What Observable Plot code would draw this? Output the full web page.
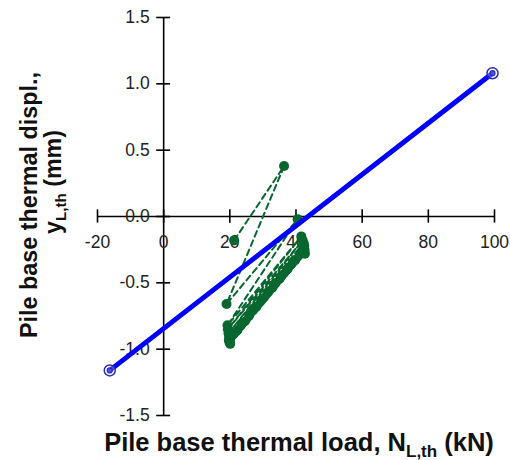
<!DOCTYPE html>
<html><head><meta charset="utf-8">
<script src="https://cdn.jsdelivr.net/npm/d3@7"></script>
<script src="https://cdn.jsdelivr.net/npm/@observablehq/plot@0.6"></script>
<style>body{margin:0;background:#fff;font-family:"Liberation Sans",Arial,sans-serif}</style>
</head><body><div id="chart"></div>
<script>
// Fitted line (blue)
const blueN = [-16.3, 99.4];
const blueY = [-1.16, 1.08];
// Measured sequence (green, dashed connections)
const seqN = [21.3, 36.4, 19.0, 40.5, 19.3, 41.6, 19.4, 42.0, 19.6, 42.3, 19.8, 42.5, 19.9, 42.6, 20.0, 42.4, 19.7, 42.2, 19.9, 42.7, 20.1];
const seqY = [-0.18, 0.38, -0.66, -0.02, -0.82, -0.15, -0.85, -0.18, -0.88, -0.20, -0.90, -0.22, -0.92, -0.25, -0.94, -0.27, -0.93, -0.24, -0.95, -0.28, -0.96];
// Dense band of measurements (green)
const bandN = [20, 21.2, 22.4, 23.5, 24.7, 25.9, 27.0, 28.2, 29.4, 30.5, 31.7, 32.9, 34.0, 35.2, 36.4, 37.5, 38.7, 39.9, 41.0, 42.0];
const bandY = [-0.93, -0.89, -0.86, -0.82, -0.79, -0.75, -0.71, -0.68, -0.64, -0.61, -0.57, -0.54, -0.50, -0.47, -0.43, -0.40, -0.36, -0.33, -0.29, -0.26];
const xTicks = [-20, 0, 20, 40, 60, 80, 100];
const yTicks = [-1.5, -1.0, -0.5, 0.0, 0.5, 1.0, 1.5];

const blue = blueN.map((n, i) => ({n, y: blueY[i]}));
const seq = seqN.map((n, i) => ({n, y: seqY[i]}));
const band = bandN.map((n, i) => ({n, y: bandY[i]}));
const green = "#08662f";

const plot = Plot.plot({
  width: 510, height: 460,
  marginLeft: 97, marginRight: 16, marginTop: 17, marginBottom: 45,
  x: {domain: [-20, 100], axis: null},
  y: {domain: [-1.5, 1.5], axis: null},
  style: {fontFamily: "'Liberation Sans', Arial, sans-serif", fontSize: "17.5px", color: "#222"},
  marks: [
    Plot.ruleY([0], {x1: -20, x2: 100, stroke: "#000", strokeWidth: 1.6}),
    Plot.ruleX([0], {y1: -1.5, y2: 1.5, stroke: "#000", strokeWidth: 1.6}),
    Plot.ruleX(xTicks, {x: d => d, y1: -0.05, y2: 0.05, stroke: "#000", strokeWidth: 1.6}),
    Plot.ruleY(yTicks, {y: d => d, x1: -2.1, x2: 2.1, stroke: "#000", strokeWidth: 1.6}),
    Plot.text(xTicks, {x: d => d, y: 0, dy: 26, text: d => String(d), fill: "#222"}),
    Plot.text(yTicks, {x: 0, y: d => d, dx: -14, textAnchor: "end", text: d => d.toFixed(1), fill: "#222"}),
    Plot.line(band, {x: "n", y: "y", stroke: green, strokeWidth: 8}),
    Plot.dot(band, {x: "n", y: "y", r: 4.5, fill: green}),
    Plot.line(seq, {x: "n", y: "y", stroke: green, strokeWidth: 2, strokeDasharray: "6,4"}),
    Plot.dot(seq, {x: "n", y: "y", r: 5, fill: green}),
    Plot.line(blue, {x: "n", y: "y", stroke: "#0000ff", strokeWidth: 5}),
    Plot.dot(blue, {x: "n", y: "y", r: 5.5, stroke: "#2a2ab8", strokeWidth: 1.5, fill: "white", fillOpacity: 0.3}),
    Plot.dot(blue, {x: "n", y: "y", r: 2.5, stroke: "#2a2ab8", strokeWidth: 1.2, fill: "none"})
  ]
});
document.getElementById("chart").appendChild(plot);

const svg = d3.select(plot);
const font = "'Liberation Sans', Arial, sans-serif";
const xt = svg.append("text").attr("x", 299).attr("y", 451).attr("text-anchor", "middle")
  .attr("font-weight", "bold").attr("font-size", 25.5).attr("fill", "#111").attr("font-family", font);
xt.append("tspan").text("Pile base thermal load, N");
xt.append("tspan").attr("font-size", 17).attr("dy", 6).text("L,th");
xt.append("tspan").attr("dy", -6).text(" (kN)");

svg.append("text").attr("transform", "translate(37,205) rotate(-90)").attr("text-anchor", "middle")
  .attr("font-weight", "bold").attr("font-size", 23).attr("fill", "#111").attr("font-family", font)
  .attr("textLength", 266).attr("lengthAdjust", "spacingAndGlyphs")
  .text("Pile base thermal displ.,");
const yt2 = svg.append("text").attr("transform", "translate(61,182) rotate(-90)").attr("text-anchor", "middle")
  .attr("font-weight", "bold").attr("font-size", 23).attr("fill", "#111").attr("font-family", font)
  .attr("textLength", 104).attr("lengthAdjust", "spacingAndGlyphs");
yt2.append("tspan").text("y");
yt2.append("tspan").attr("font-size", 15).attr("dy", 5).text("L,th");
yt2.append("tspan").attr("dy", -5).text(" (mm)");
</script></body></html>
